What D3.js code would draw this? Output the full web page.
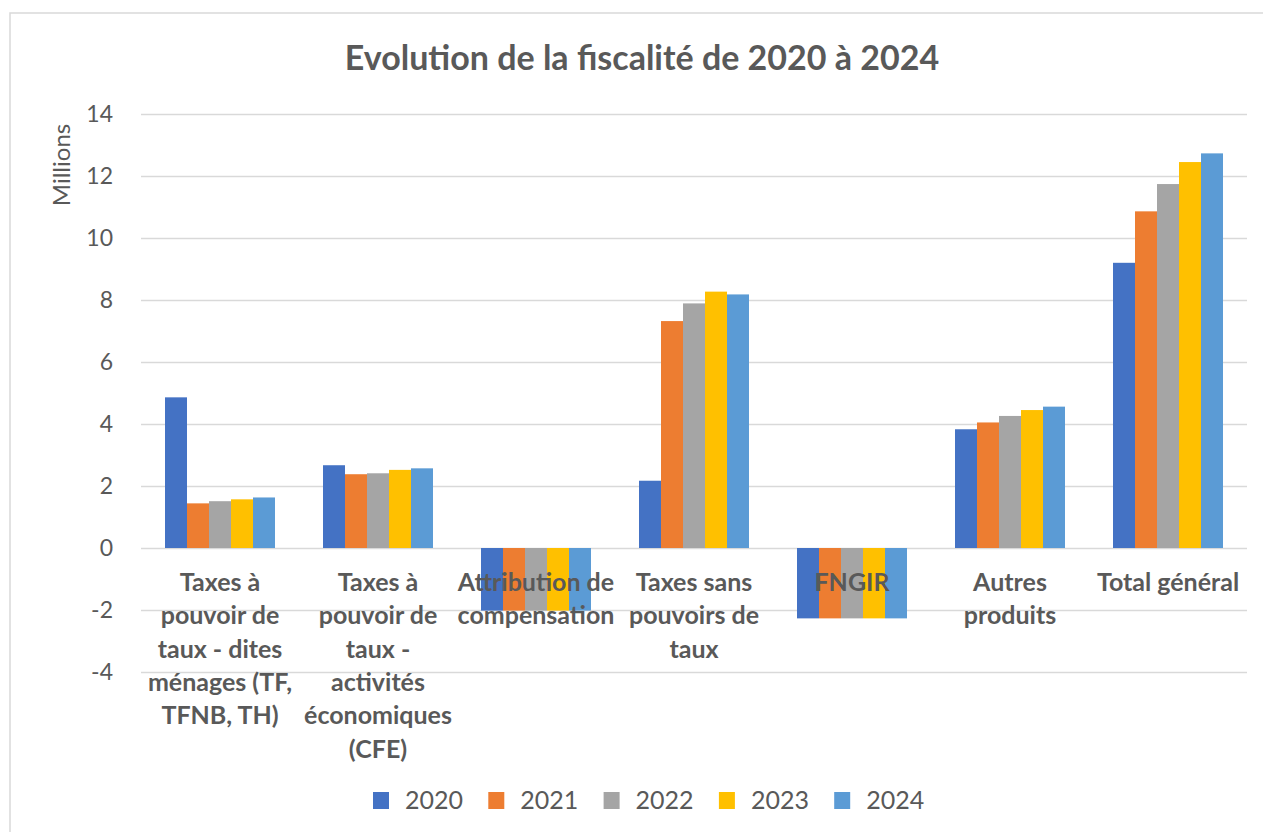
<!DOCTYPE html>
<html>
<head>
  <meta charset="UTF-8">
  <title>Evolution de la fiscalité</title>
  <script src="https://d3js.org/d3.v7.min.js"></script>
  <style>
    body { margin: 0; background: #fff; }
    text { font-family: Lato, "Open Sans", sans-serif; fill: #595959; }
  </style>
</head>
<body>
<script>
// categories (line breaks as shown in the chart)
var categories = [
  ["Taxes à", "pouvoir de", "taux - dites", "ménages (TF,", "TFNB, TH)"],
  ["Taxes à", "pouvoir de", "taux -", "activités", "économiques", "(CFE)"],
  ["Attribution de", "compensation"],
  ["Taxes sans", "pouvoirs de", "taux"],
  ["FNGIR"],
  ["Autres", "produits"],
  ["Total général"]
];
var years = ["2020", "2021", "2022", "2023", "2024"];
var colors = ["#4472C4", "#ED7D31", "#A5A5A5", "#FFC000", "#5B9BD5"];

// values in millions
var v2020 = [4.86, 2.67, -2.02, 2.17, -2.27, 3.83, 9.20];
var v2021 = [1.44, 2.38, -2.02, 7.32, -2.27, 4.05, 10.86];
var v2022 = [1.51, 2.41, -2.02, 7.89, -2.27, 4.26, 11.74];
var v2023 = [1.57, 2.52, -2.02, 8.27, -2.27, 4.45, 12.45];
var v2024 = [1.63, 2.57, -2.02, 8.18, -2.27, 4.56, 12.73];
var series = [v2020, v2021, v2022, v2023, v2024];

var yTicks = [-4, -2, 0, 2, 4, 6, 8, 10, 12, 14];

var W = 1263, H = 832;
var plotLeft = 141, plotRight = 1247, plotTop = 114, plotBottom = 672;

var svg = d3.select("body").append("svg")
  .attr("width", W)
  .attr("height", H);

// outer chart border
svg.append("rect")
  .attr("x", 10).attr("y", 13)
  .attr("width", W).attr("height", H)
  .attr("fill", "none")
  .attr("stroke", "#D9D9D9")
  .attr("stroke-width", 1.5);

var y = d3.scaleLinear().domain([-4, 14]).range([plotBottom, plotTop]);

var x0 = d3.scaleBand()
  .domain(d3.range(categories.length))
  .range([plotLeft, plotRight]);

var x1 = d3.scaleBand()
  .domain(d3.range(years.length))
  .range([24, x0.bandwidth() - 24]);

// gridlines + y tick labels (plain hyphen for negatives, like Excel)
var yAxis = svg.append("g")
  .attr("transform", "translate(" + plotLeft + ",0)")
  .call(d3.axisLeft(y)
    .tickValues(yTicks)
    .tickFormat(function (d) { return String(d); })
    .tickSize(-(plotRight - plotLeft))
    .tickPadding(28));
yAxis.select(".domain").remove();
yAxis.selectAll("line").attr("stroke", "#D9D9D9").attr("stroke-width", 1.5);
yAxis.selectAll("text")
  .style("font-family", "Lato, sans-serif")
  .style("font-size", "23px")
  .attr("fill", "#595959");

// bars
var groups = svg.append("g").selectAll("g")
  .data(series)
  .join("g")
  .attr("fill", function (d, i) { return colors[i]; });

groups.each(function (vals, si) {
  d3.select(this).selectAll("rect")
    .data(vals)
    .join("rect")
    .attr("x", function (d, ci) { return x0(ci) + x1(si); })
    .attr("width", x1.bandwidth())
    .attr("y", function (d) { return y(Math.max(0, d)); })
    .attr("height", function (d) { return Math.abs(y(d) - y(0)); });
});

// category labels (drawn over the bars)
var labels = svg.append("g").selectAll("text")
  .data(categories)
  .join("text")
  .attr("text-anchor", "middle")
  .style("font-weight", "bold")
  .style("font-size", "25px");
labels.each(function (lines, ci) {
  d3.select(this).selectAll("tspan")
    .data(lines)
    .join("tspan")
    .attr("x", x0(ci) + x0.bandwidth() / 2)
    .attr("y", function (d, i) { return 591 + i * 33.3; })
    .text(function (d) { return d; });
});

// title
svg.append("text")
  .attr("x", 642).attr("y", 70)
  .attr("text-anchor", "middle")
  .style("font-weight", "bold")
  .style("font-size", "34px")
  .text("Evolution de la fiscalité de 2020 à 2024");

// y axis unit label
svg.append("text")
  .attr("transform", "translate(70,165) rotate(-90)")
  .attr("text-anchor", "middle")
  .style("font-size", "24px")
  .text("Millions");

// legend
var legend = svg.append("g").selectAll("g")
  .data(years)
  .join("g")
  .attr("transform", function (d, i) { return "translate(" + (373 + i * 115.3) + ",792)"; });
legend.append("rect")
  .attr("width", 16).attr("height", 17)
  .attr("fill", function (d, i) { return colors[i]; });
legend.append("text")
  .attr("x", 32).attr("y", 17)
  .style("font-size", "25px")
  .text(function (d) { return d; });
</script>
</body>
</html>
